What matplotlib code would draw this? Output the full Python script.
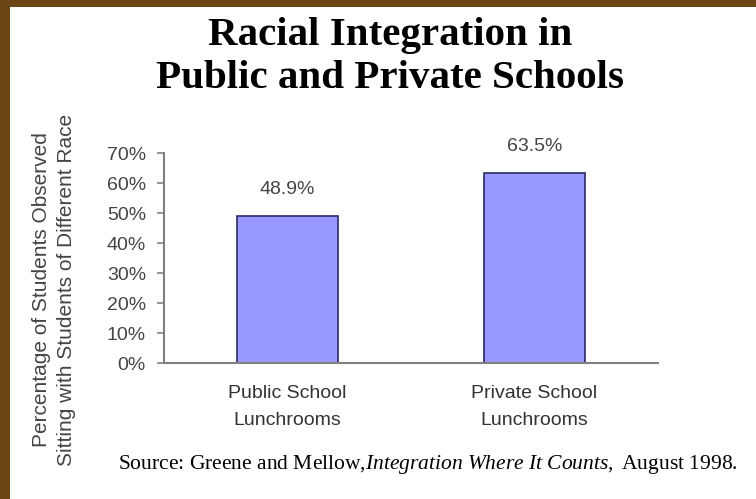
import matplotlib
matplotlib.use('Agg')
import matplotlib.pyplot as plt
from matplotlib.patches import Rectangle

plt.rcParams['mathtext.fontset'] = 'custom'
plt.rcParams['mathtext.rm'] = 'Liberation Serif'
plt.rcParams['mathtext.it'] = 'Liberation Serif:italic'

categories = ['Public School\nLunchrooms', 'Private School\nLunchrooms']
values = [48.9, 63.5]
value_labels = ['48.9%', '63.5%']
yticks = [0, 10, 20, 30, 40, 50, 60, 70]
ytick_labels = ['0%', '10%', '20%', '30%', '40%', '50%', '60%', '70%']

title = 'Racial Integration in\nPublic and Private Schools'
ylabel = 'Percentage of Students Observed\nSitting with Students of Different Race'

fig = plt.figure(figsize=(7.56, 4.99), dpi=100)
fig.patch.set_facecolor('white')

# brown frame (top and left edges)
fig.patches.append(Rectangle((0, 1 - 7 / 499), 1, 7 / 499, transform=fig.transFigure,
                             facecolor='#6B4513', edgecolor='none', zorder=0))
fig.patches.append(Rectangle((0, 0), 10 / 756, 1, transform=fig.transFigure,
                             facecolor='#6B4513', edgecolor='none', zorder=0))

ax = fig.add_axes([164 / 756, 1 - 363 / 499, 494 / 756, 210 / 499])

x = list(range(len(categories)))
bars = ax.bar(x, values, width=0.41, color='#9999FF', edgecolor='#2A2A66', linewidth=1.2)

for xi, v, lab in zip(x, values, value_labels):
    ax.annotate(lab, (xi, v), xytext=(0, 19), textcoords='offset points',
                ha='center', va='center', fontsize=14, color='#444444',
                family='Liberation Sans')

ax.set_xlim(-0.5, 1.5)
ax.set_ylim(0, 70)
ax.set_yticks(yticks)
ax.set_yticklabels(ytick_labels, fontsize=14, color='#444444', family='Liberation Sans')
ax.set_xticks(x)
ax.set_xticklabels(categories, fontsize=14, color='#333333', family='Liberation Sans',
                   linespacing=1.75)
ax.tick_params(axis='x', length=0, pad=16)
ax.tick_params(axis='y', length=5, width=1.2, color='#808080', pad=8, direction='out')

for s in ['top', 'right']:
    ax.spines[s].set_visible(False)
for s in ['left', 'bottom']:
    ax.spines[s].set_color('#808080')
    ax.spines[s].set_linewidth(1.5)

fig.text(390 / 756, 1 - 57 / 499, title, ha='center', va='center', fontsize=29.5,
         fontweight='bold', family='Liberation Serif', linespacing=1.2)

fig.text(54 / 756, 1 - 290 / 499, ylabel, ha='center', va='center', rotation=90,
         fontsize=15, color='#444444', family='Liberation Sans', linespacing=1.45)

fig.text(118 / 756, 1 - 465 / 499,
         r'Source: Greene and Mellow,$\it{Integration\ Where\ It\ Counts,}$ August 1998.',
         ha='left', va='center', fontsize=15.5, family='Liberation Serif')

fig.savefig('out.png', dpi=100)
